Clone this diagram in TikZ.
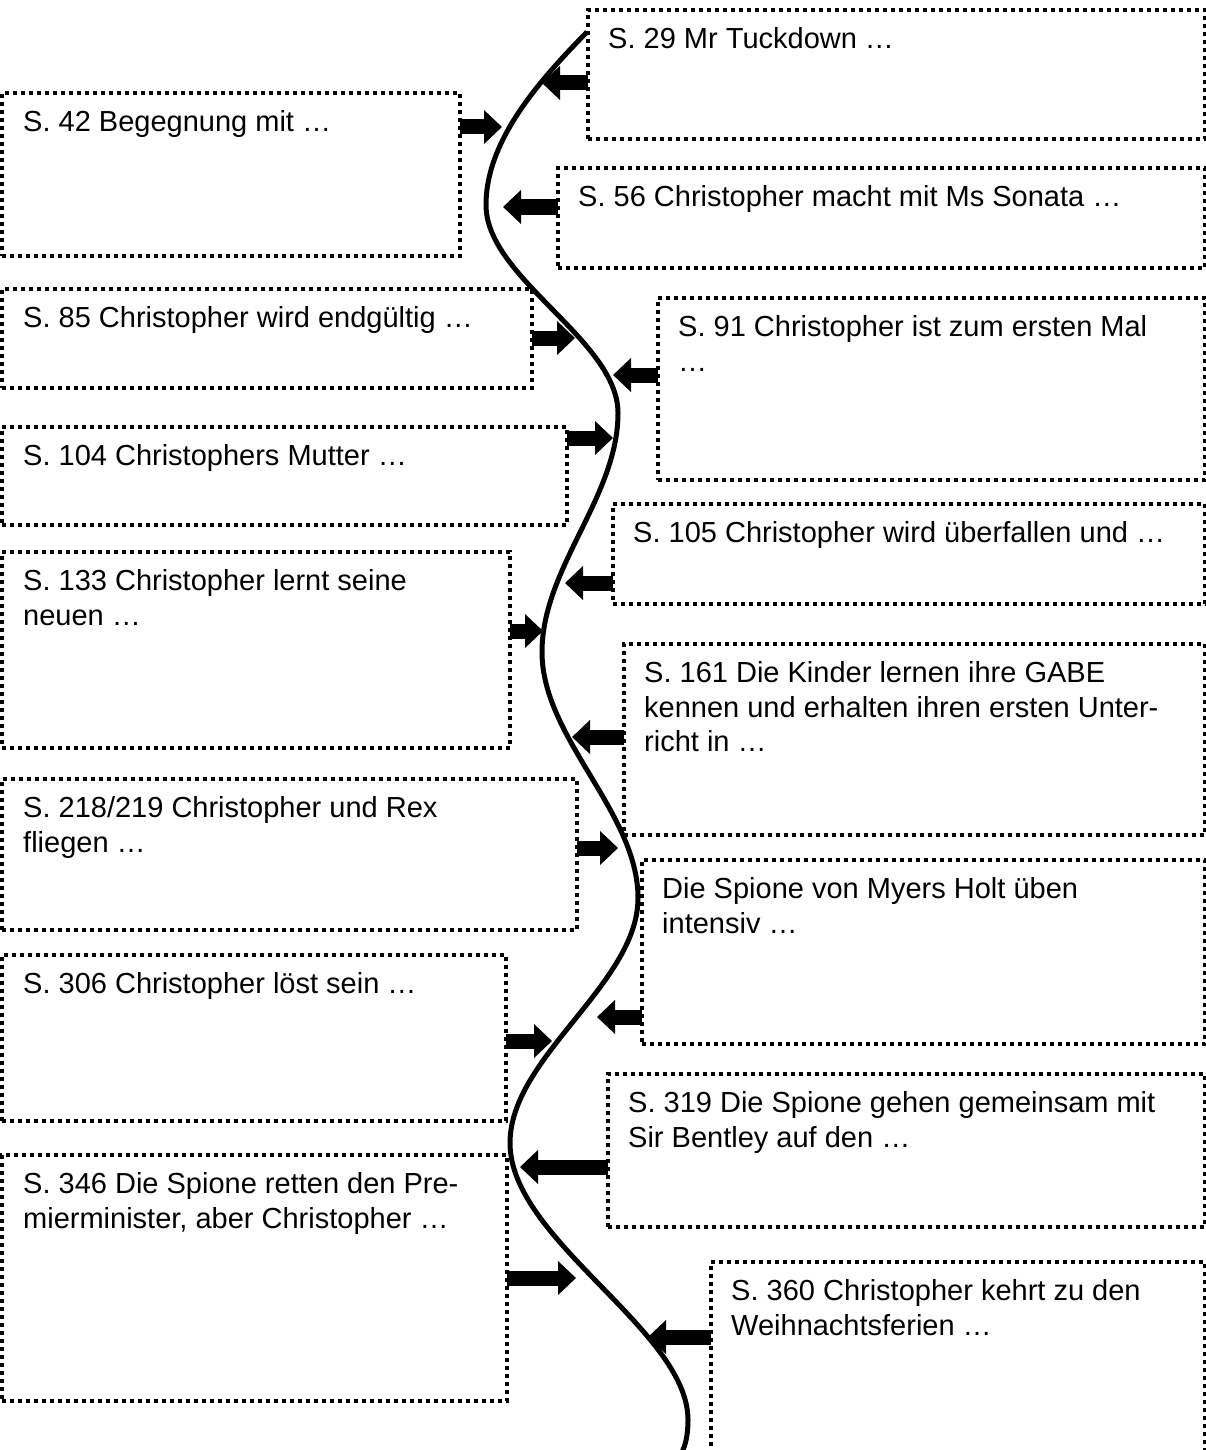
\documentclass[tikz,border=0pt]{standalone}
\usepackage{fontspec}
\setmainfont{Liberation Sans}
\usetikzlibrary{arrows.meta,fit}

\tikzset{
  evbox/.style={draw, line width=3.5pt, dash pattern=on 4pt off 4pt, inner sep=0pt, outer sep=0pt},
  evtext/.style={anchor=north west, inner sep=0pt, align=left, font=\fontsize{29}{34.5}\selectfont},
  blockarr/.style={line width=15pt, -{Triangle[length=18pt,width=33pt]}},
  storyline/.style={line width=5pt}
}

\begin{document}
\frenchspacing
\begin{tikzpicture}[x=1pt,y=-1pt]
        \useasboundingbox (0,0) rectangle (1206,1450);
        \clip (0,0) rectangle (1206,1450);
        \node (b29) [evbox, fit={(588,10) (1205,139)}] {};
        \node (t29) at ([shift={(20,17.5)}]b29.north west) [evtext] {S. 29 Mr Tuckdown …};
        \node (b42) [evbox, fit={(2,93) (460,256)}] {};
        \node (t42) at ([shift={(21,17.5)}]b42.north west) [evtext] {S. 42 Begegnung mit …};
        \node (b56) [evbox, fit={(558,168) (1205,268)}] {};
        \node (t56) at ([shift={(20,17.5)}]b56.north west) [evtext] {S. 56 Christopher macht mit Ms Sonata …};
        \node (b85) [evbox, fit={(2,289) (532,388)}] {};
        \node (t85) at ([shift={(21,17.5)}]b85.north west) [evtext] {S. 85 Christopher wird endgültig …};
        \node (b91) [evbox, fit={(658,298) (1205,480)}] {};
        \node (t91) at ([shift={(20,17.5)}]b91.north west) [evtext] {S. 91 Christopher ist zum ersten Mal\\…};
        \node (b104) [evbox, fit={(2,427) (567,525)}] {};
        \node (t104) at ([shift={(21,17.5)}]b104.north west) [evtext] {S. 104 Christophers Mutter …};
        \node (b105) [evbox, fit={(613,504) (1205,604)}] {};
        \node (t105) at ([shift={(20,17.5)}]b105.north west) [evtext] {S. 105 Christopher wird überfallen und …};
        \node (b133) [evbox, fit={(2,552) (510,748)}] {};
        \node (t133) at ([shift={(21,17.5)}]b133.north west) [evtext] {S. 133 Christopher lernt seine\\neuen …};
        \node (b161) [evbox, fit={(624,644) (1205,835)}] {};
        \node (t161) at ([shift={(20,17.5)}]b161.north west) [evtext] {S. 161 Die Kinder lernen ihre GABE\\kennen und erhalten ihren ersten Unter-\\richt in …};
        \node (b218) [evbox, fit={(2,779) (577,930)}] {};
        \node (t218) at ([shift={(21,17.5)}]b218.north west) [evtext] {S. 218/219 Christopher und Rex\\fliegen …};
        \node (bsp) [evbox, fit={(642,860) (1205,1044)}] {};
        \node (tsp) at ([shift={(20,17.5)}]bsp.north west) [evtext] {Die Spione von Myers Holt üben\\intensiv …};
        \node (b306) [evbox, fit={(2,955) (506,1121)}] {};
        \node (t306) at ([shift={(21,17.5)}]b306.north west) [evtext] {S. 306 Christopher löst sein …};
        \node (b319) [evbox, fit={(608,1074) (1205,1227)}] {};
        \node (t319) at ([shift={(20,17.5)}]b319.north west) [evtext] {S. 319 Die Spione gehen gemeinsam mit\\Sir Bentley auf den …};
        \node (b346) [evbox, fit={(2,1155) (507,1401)}] {};
        \node (t346) at ([shift={(21,17.5)}]b346.north west) [evtext] {S. 346 Die Spione retten den Pre-\\mierminister, aber Christopher …};
        \node (b360) [evbox, fit={(711,1262) (1205,1470)}] {};
        \node (t360) at ([shift={(20,17.5)}]b360.north west) [evtext] {S. 360 Christopher kehrt zu den\\Weihnachtsferien …};
        \draw[storyline] (587,32) .. controls (540,80) and (486,140) .. (486,205)
            .. controls (486,278) and (618,340) .. (618,413)
            .. controls (618,497) and (542,568) .. (542,652)
            .. controls (542,738) and (638,812) .. (638,898)
            .. controls (638,984) and (510,1057) .. (510,1143)
            .. controls (510,1240) and (688,1330) .. (688,1420)
            .. controls (688,1436) and (685,1446) .. (682,1452);
        \coordinate (a29) at (542,83);
        \coordinate (a42) at (502,127);
        \coordinate (a56) at (503,207);
        \coordinate (a85) at (575,338);
        \coordinate (a91) at (613,375);
        \coordinate (a104) at (613,438);
        \coordinate (a105) at (565,583);
        \coordinate (a133) at (543,631);
        \coordinate (a161) at (572,737);
        \coordinate (a218) at (618,848);
        \coordinate (asp) at (597,1017);
        \coordinate (a306) at (552,1041);
        \coordinate (a319) at (520,1167);
        \coordinate (a346) at (576,1278);
        \coordinate (a360) at (648,1337);
        \draw[blockarr] (b29.west |- a29) -- (a29);
        \draw[blockarr] (b42.east |- a42) -- (a42);
        \draw[blockarr] (b56.west |- a56) -- (a56);
        \draw[blockarr] (b85.east |- a85) -- (a85);
        \draw[blockarr] (b91.west |- a91) -- (a91);
        \draw[blockarr] (b104.east |- a104) -- (a104);
        \draw[blockarr] (b105.west |- a105) -- (a105);
        \draw[blockarr] (b133.east |- a133) -- (a133);
        \draw[blockarr] (b161.west |- a161) -- (a161);
        \draw[blockarr] (b218.east |- a218) -- (a218);
        \draw[blockarr] (bsp.west |- asp) -- (asp);
        \draw[blockarr] (b306.east |- a306) -- (a306);
        \draw[blockarr] (b319.west |- a319) -- (a319);
        \draw[blockarr] (b346.east |- a346) -- (a346);
        \draw[blockarr] (b360.west |- a360) -- (a360);
    \end{tikzpicture}
\end{document}
